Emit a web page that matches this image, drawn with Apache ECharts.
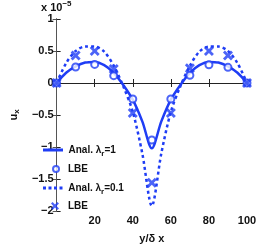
<!DOCTYPE html>
<html><head><meta charset="utf-8">
<script src="https://cdn.jsdelivr.net/npm/echarts@6/dist/echarts.min.js"></script>
<style>html,body{margin:0;padding:0;background:#fff}#c{width:274px;height:249px}</style>
</head><body><div id="c"></div>
<script>
// data (units of 1e-5)
var xCurve = [0,5,10,15,20,25,30,35,40,45,50,55,60,65,70,75,80,85,90,95,100];
var analLam1 = [0,0.16,0.26,0.32,0.33,0.28,0.16,-0.03,-0.26,-0.6,-1.02,-0.6,-0.26,-0.03,0.16,0.28,0.33,0.32,0.26,0.16,0];
var analLam01 = [0,0.31,0.5,0.57,0.57,0.49,0.27,-0.05,-0.45,-1.1,-1.92,-1.1,-0.45,-0.05,0.27,0.49,0.57,0.57,0.5,0.31,0];
var xLBE = [0,10,20,30,40,50,60,70,80,90,100];
var lbeLam1 = [0,0.25,0.29,0.115,-0.25,-0.89,-0.25,0.12,0.285,0.245,0];
var lbeLam01 = [0,0.43,0.5,0.22,-0.47,-1.56,-0.47,0.23,0.5,0.43,0];
var xTicks = [0,20,40,60,80,100];
var yTicks = [-2,-1.5,-1,-0.5,0,0.5,1];

var blue = '#1f3df5';
function pairs(xs, ys){ return xs.map(function(x,i){ return [x, ys[i]]; }); }
var crossPath = 'path://M0,2 L2,0 L5,3 L8,0 L10,2 L7,5 L10,8 L8,10 L5,7 L2,10 L0,8 L3,5 Z';
var solidPath = 'path://M0,0h20v3h-20z';
var dashPath = 'path://M0,0h3v3h-3z M5.5,0h3v3h-3z M11,0h3v3h-3z M16.5,0h3v3h-3z';
var fmtNum = function(v){ return String(v).replace('-', '\u2212'); };

var legendNames = {s1:'{a|Anal. \u03bb}{s|r}{a|=1}', m1:'{p|LBE}', s2:'{a|Anal. \u03bb}{s|r}{a|=0.1}', m2:'{p|LBE}'};
var legendRich = {
  a:{fontFamily:'Liberation Sans', fontSize:10, fontWeight:'bold', color:'#111'},
  p:{fontFamily:'Liberation Sans', fontSize:10, fontWeight:'bold', color:'#111', padding:[0,0,0,4]},
  s:{fontFamily:'Liberation Sans', fontSize:8, fontWeight:'bold', color:'#111', padding:[7,0,0,0]}
};
function leg(name, icon, left, top, w, h, st){
  return {orient:'vertical', left:left, top:top, itemWidth:w, itemHeight:h, padding:0,
    data:[{name:name, icon:icon}], formatter:function(n){ return legendNames[n]; },
    itemStyle:st, textStyle:{rich:legendRich}, selectedMode:false};
}

var chart = echarts.init(document.getElementById('c'), null, {renderer:'canvas'});
chart.setOption({
  animation:false,
  title:{
    text:'{a|x 10}{b|\u22125}', left:41, top:0, padding:0,
    textStyle:{ rich:{
      a:{fontFamily:'Liberation Sans', fontSize:11, fontWeight:'bold', color:'#111'},
      b:{fontFamily:'Liberation Sans', fontSize:8, fontWeight:'bold', color:'#111', padding:[0,0,8,0]}
    }}
  },
  grid:{left:42, right:27, top:19, bottom:30, containLabel:false},
  legend:[
    leg('s1',solidPath,43,145,21,3,{color:blue, borderWidth:0}),
    leg('m1','emptyCircle',52,164,6,6,{color:blue, borderColor:blue, borderWidth:2}),
    leg('s2',dashPath,43,183,21,3,{color:blue, borderWidth:0}),
    leg('m2',crossPath,51,201,8,8,{color:blue, borderWidth:0})
  ],
  xAxis:[{
    type:'value', min:0, max:100, interval:20,
    name:'y/\u03b4 x', nameLocation:'middle', nameGap:22,
    nameTextStyle:{fontFamily:'Liberation Sans', fontSize:11, fontWeight:'bold', color:'#111'},
    axisLine:{lineStyle:{color:'#222', width:1}},
    axisTick:{inside:true, length:4, lineStyle:{color:'#222'}},
    axisLabel:{margin:4, fontFamily:'Liberation Sans', fontSize:11, fontWeight:'bold', color:'#111',
      showMinLabel:true, showMaxLabel:true,
      formatter:function(v){ return v===0 ? '' : fmtNum(v); }},
    splitLine:{show:false}
  },{
    type:'value', position:'top', min:0, max:100, interval:20,
    axisLine:{lineStyle:{color:'#222', width:1}},
    axisTick:{inside:true, length:4, lineStyle:{color:'#222'}},
    axisLabel:{show:false}, splitLine:{show:false}
  }],
  yAxis:[{
    type:'value', min:-2, max:1, interval:0.5,
    name:'{u|u}{x|x}', nameLocation:'middle', nameGap:31, nameRotate:90,
    nameTextStyle:{ rich:{
      u:{fontFamily:'Liberation Sans', fontSize:11, fontWeight:'bold', color:'#111'},
      x:{fontFamily:'Liberation Sans', fontSize:8, fontWeight:'bold', color:'#111', padding:[7,0,0,0]}
    }},
    axisLine:{show:true, lineStyle:{color:'#222', width:1}},
    axisTick:{show:true, inside:true, length:4, lineStyle:{color:'#222'}},
    axisLabel:{margin:3, fontFamily:'Liberation Sans', fontSize:11, fontWeight:'bold', color:'#111',
      showMinLabel:true, showMaxLabel:true, hideOverlap:false, formatter:fmtNum},
    splitLine:{show:false}
  },{
    type:'value', position:'right', min:-2, max:1, interval:0.5,
    axisLine:{show:true, lineStyle:{color:'#555', width:1}},
    axisTick:{show:true, inside:true, length:4, lineStyle:{color:'#555'}},
    axisLabel:{show:false}, splitLine:{show:false}
  }],
  series:[
    {name:'s1', type:'line', data:pairs(xCurve, analLam1), smooth:0.3, symbol:'none',
      lineStyle:{color:blue, width:2.5}, itemStyle:{color:blue}, z:3},
    {name:'m1', type:'scatter', data:pairs(xLBE, lbeLam1), symbol:'emptyCircle', symbolSize:7,
      itemStyle:{color:blue, borderColor:blue, borderWidth:2}, z:4},
    {name:'s2', type:'line', data:pairs(xCurve, analLam01), smooth:0.3, symbol:'none',
      lineStyle:{color:blue, width:2.5, type:[3,3]}, itemStyle:{color:blue}, z:3},
    {name:'m2', type:'scatter', data:pairs(xLBE, lbeLam01), symbol:crossPath, symbolSize:10,
      itemStyle:{color:blue}, z:4}
  ]
});
</script></body></html>
